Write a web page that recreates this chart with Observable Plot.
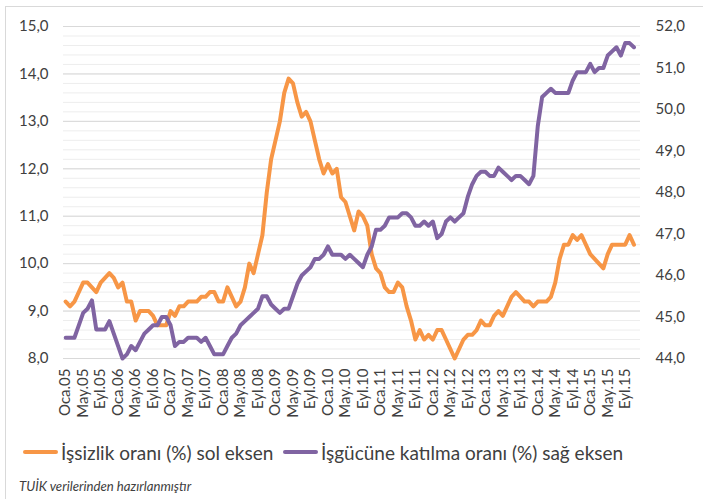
<!DOCTYPE html>
<html>
<head>
<meta charset="utf-8">
<script src="https://cdn.jsdelivr.net/npm/d3@7"></script>
<script src="https://cdn.jsdelivr.net/npm/@observablehq/plot@0.6"></script>
<style>
  body { margin: 0; background: #fff; font-family: Lato, sans-serif; color: #404040; }
  #wrap { position: relative; width: 703px; height: 499px; overflow: hidden; }
  #frame { position: absolute; left: 5px; top: 6px; width: 720px; height: 520px;
           border-top: 1px solid #D9D9D9; border-left: 1px solid #D9D9D9; box-sizing: border-box; }
  #chart { position: absolute; left: 0; top: 0; }
  .legend-item { position: absolute; top: 440px; height: 24px; display: flex; align-items: center;
                 font-size: 19px; white-space: nowrap; }
  .sw { display: inline-block; width: 35px; height: 4px; border-radius: 2px; margin-right: 3px; }
  #note { position: absolute; left: 19px; top: 478px; font-size: 13.2px; font-style: italic; white-space: nowrap; }
</style>
</head>
<body>
<div id="wrap">
  <div id="frame"></div>
  <div id="chart"></div>
  <div class="legend-item" id="lg1" style="left:23px"></div>
  <div class="legend-item" id="lg2" style="left:283px"></div>
  <div id="note"></div>
</div>
<script>
// ---- data ----
const monthNames = ["Oca", "Şub", "Mar", "Nis", "May", "Haz", "Tem", "Ağu", "Eyl", "Eki", "Kas", "Ara"];
const years = ["05", "06", "07", "08", "09", "10", "11", "12", "13", "14", "15"];
const months = years.flatMap(y => monthNames.map(m => `${m}.${y}`)); // Oca.05 ... Ara.15
const tickLabels = ["Oca.05","May.05","Eyl.05","Oca.06","May.06","Eyl.06","Oca.07","May.07","Eyl.07",
  "Oca.08","May.08","Eyl.08","Oca.09","May.09","Eyl.09","Oca.10","May.10","Eyl.10","Oca.11","May.11","Eyl.11",
  "Oca.12","May.12","Eyl.12","Oca.13","May.13","Eyl.13","Oca.14","May.14","Eyl.14","Oca.15","May.15","Eyl.15"];

// İşsizlik oranı (%) – left axis
const unemployment = [
  9.2, 9.1, 9.2, 9.4, 9.6, 9.6, 9.5, 9.4, 9.6, 9.7, 9.8, 9.7,
  9.5, 9.6, 9.2, 9.2, 8.8, 9.0, 9.0, 9.0, 8.9, 8.7, 8.7, 8.7,
  9.0, 8.9, 9.1, 9.1, 9.2, 9.2, 9.2, 9.3, 9.3, 9.4, 9.4, 9.2,
  9.2, 9.5, 9.3, 9.1, 9.2, 9.5, 10.0, 9.8, 10.2, 10.6, 11.5, 12.2,
  12.6, 13.0, 13.6, 13.9, 13.8, 13.4, 13.1, 13.2, 13.0, 12.6, 12.2, 11.9,
  12.1, 11.9, 12.0, 11.4, 11.3, 11.0, 10.7, 11.1, 11.0, 10.8, 10.2, 9.9,
  9.8, 9.5, 9.4, 9.4, 9.6, 9.5, 9.1, 8.8, 8.4, 8.6, 8.4, 8.5,
  8.4, 8.6, 8.6, 8.4, 8.2, 8.0, 8.2, 8.4, 8.5, 8.5, 8.6, 8.8,
  8.7, 8.7, 8.9, 9.0, 8.9, 9.1, 9.3, 9.4, 9.3, 9.2, 9.2, 9.1,
  9.2, 9.2, 9.2, 9.3, 9.6, 10.1, 10.4, 10.4, 10.6, 10.5, 10.6, 10.4,
  10.2, 10.1, 10.0, 9.9, 10.2, 10.4, 10.4, 10.4, 10.4, 10.6, 10.4
];
// İşgücüne katılma oranı (%) – right axis
const participation = [
  44.5, 44.5, 44.5, 44.8, 45.1, 45.2, 45.4, 44.7, 44.7, 44.7, 44.9, 44.6,
  44.3, 44.0, 44.1, 44.3, 44.2, 44.4, 44.6, 44.7, 44.8, 44.8, 45.0, 45.0,
  44.8, 44.3, 44.4, 44.4, 44.5, 44.5, 44.5, 44.4, 44.5, 44.3, 44.1, 44.1,
  44.1, 44.3, 44.5, 44.6, 44.8, 44.9, 45.0, 45.1, 45.2, 45.5, 45.5, 45.3,
  45.2, 45.1, 45.2, 45.2, 45.5, 45.8, 46.0, 46.1, 46.2, 46.4, 46.4, 46.5,
  46.7, 46.5, 46.5, 46.5, 46.4, 46.5, 46.4, 46.3, 46.2, 46.5, 46.7, 47.1,
  47.1, 47.2, 47.4, 47.4, 47.4, 47.5, 47.5, 47.4, 47.2, 47.2, 47.3, 47.2,
  47.3, 46.9, 47.0, 47.3, 47.4, 47.3, 47.4, 47.5, 47.9, 48.2, 48.4, 48.5,
  48.5, 48.4, 48.4, 48.6, 48.5, 48.4, 48.3, 48.4, 48.4, 48.3, 48.2, 48.4,
  49.6, 50.3, 50.4, 50.5, 50.4, 50.4, 50.4, 50.4, 50.7, 50.9, 50.9, 50.9,
  51.1, 50.9, 51.0, 51.0, 51.3, 51.4, 51.5, 51.3, 51.6, 51.6, 51.5
];
const leftTicks = [8, 9, 10, 11, 12, 13, 14, 15];
const rightTicks = [44, 45, 46, 47, 48, 49, 50, 51, 52];
const minorTicks = d3.range(8, 15.001, 0.2).map(v => Math.round(v * 10) / 10);
const seriesNames = ["İşsizlik oranı (%) sol eksen", "İşgücüne katılma oranı (%) sağ eksen"];
const colors = ["#F79646", "#8064A2"];
const note = "TUİK  verilerinden hazırlanmıştır";

// ---- chart ----
const toLeft = v => 8 + (v - 44) * 7 / 8; // right-axis value -> left scale
const fmt = v => v.toFixed(1).replace(".", ",");
const d1 = unemployment.map((v, i) => ({month: months[i], v}));
const d2 = participation.map((v, i) => ({month: months[i], v: toLeft(v)}));

const chart = Plot.plot({
  width: 703,
  height: 430,
  marginLeft: 63,
  marginRight: 63,
  marginTop: 26,
  marginBottom: 72,
  style: {fontFamily: "Lato, sans-serif", fontSize: "15px", color: "#404040", background: "transparent", overflow: "visible"},
  x: {type: "point", domain: months, padding: 0.5, axis: null},
  y: {domain: [8, 15], axis: null},
  marks: [
    Plot.ruleY(minorTicks, {stroke: "#EDEDED", strokeWidth: 1}),
    Plot.ruleY(leftTicks, {stroke: "#D9D9D9", strokeWidth: 1}),
    Plot.axisY(leftTicks, {tickSize: 0, tickPadding: 15, tickFormat: fmt, fontSize: 15, label: null}),
    Plot.text(rightTicks, {y: d => toLeft(d), text: d => fmt(d), frameAnchor: "right", textAnchor: "start", dx: 15, fontSize: 15, fill: "#404040"}),
    Plot.axisX(tickLabels, {tickSize: 0, tickPadding: 10, tickRotate: -90, fontSize: 15, label: null}),
    Plot.line(d1, {x: "month", y: "v", stroke: colors[0], strokeWidth: 4, strokeLinejoin: "round", strokeLinecap: "round"}),
    Plot.line(d2, {x: "month", y: "v", stroke: colors[1], strokeWidth: 4, strokeLinejoin: "round", strokeLinecap: "round"})
  ]
});
document.getElementById("chart").appendChild(chart);

["lg1", "lg2"].forEach((id, k) => {
  const el = document.getElementById(id);
  const sw = document.createElement("span");
  sw.className = "sw";
  sw.style.background = colors[k];
  el.appendChild(sw);
  el.appendChild(document.createTextNode(seriesNames[k]));
});
document.getElementById("note").textContent = note;
</script>
</body>
</html>
